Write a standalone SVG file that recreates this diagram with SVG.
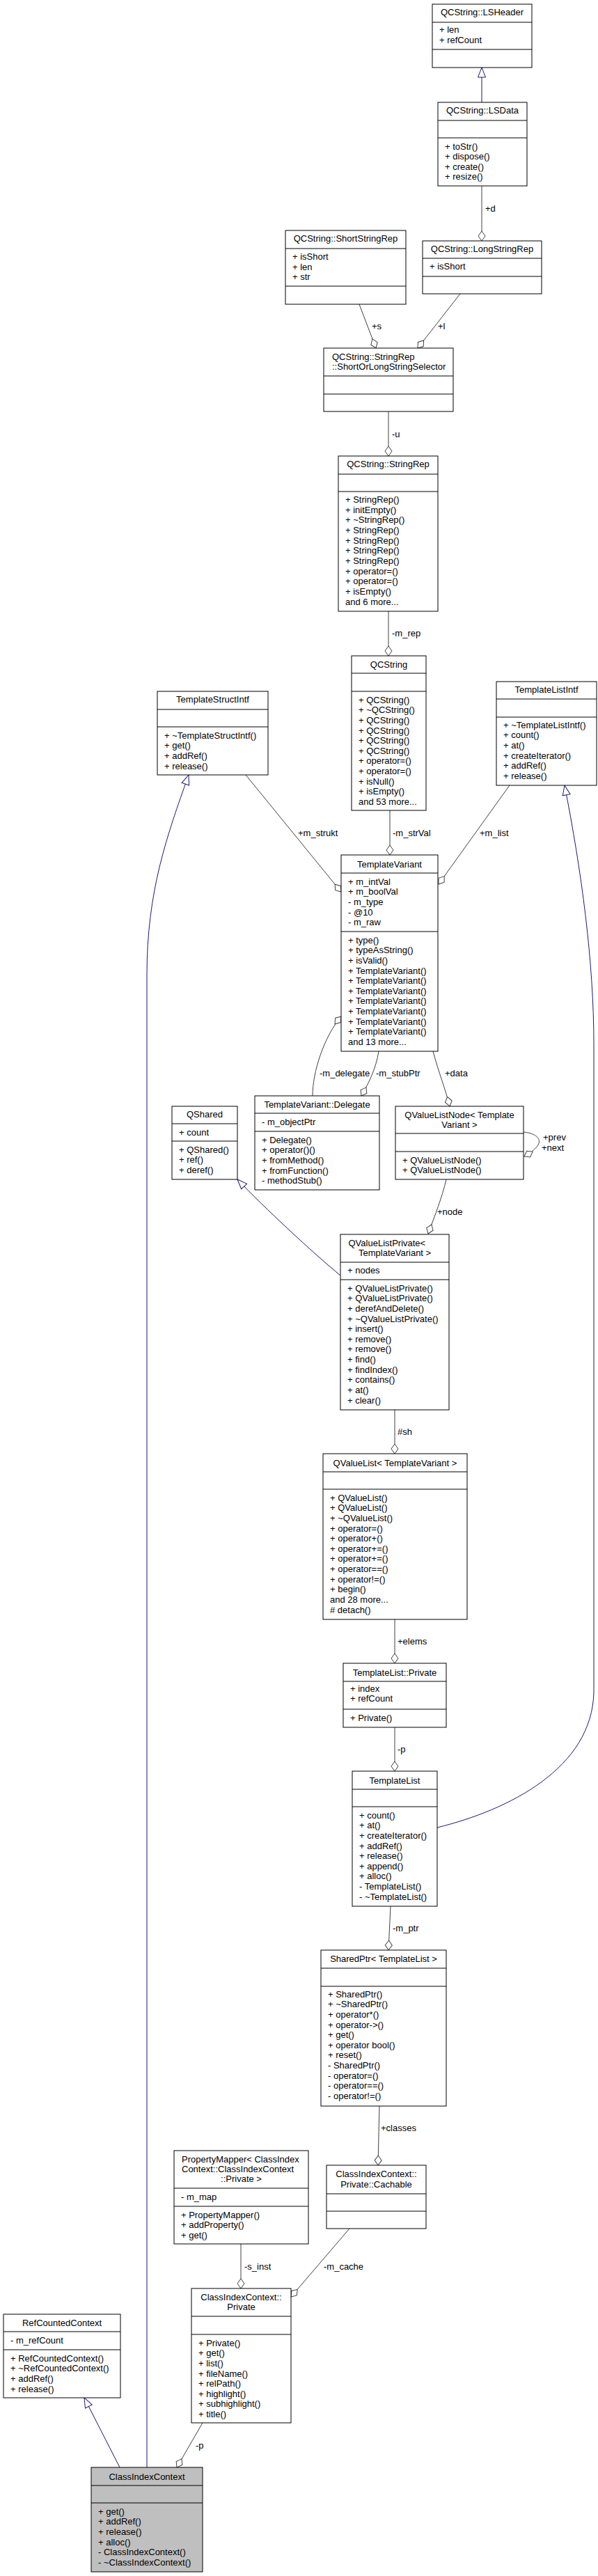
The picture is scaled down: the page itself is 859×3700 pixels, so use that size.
<svg xmlns="http://www.w3.org/2000/svg" width="859" height="3700" viewBox="0 0 859 3700">
<style>
text{font-family:"Liberation Sans",Arial,Helvetica,sans-serif;font-size:13px;fill:#000}
.m{text-anchor:middle}
.b{fill:#fff;stroke:#000;stroke-width:1}
.g{fill:#bfbfbf;stroke:#000;stroke-width:1}
.d{stroke:#000;stroke-width:1}
.e{fill:none;stroke:#404040;stroke-width:1;marker-end:url(#dia)}
.i{fill:none;stroke:#191970;stroke-width:1;marker-end:url(#tri)}
</style>
<defs>
<marker id="dia" markerUnits="userSpaceOnUse" viewBox="-16 -8 18 16" refX="0" refY="0" markerWidth="18" markerHeight="16" orient="auto" overflow="visible">
<path d="M0,0 L-7,-5 L-14,0 L-7,5 Z" fill="#fff" stroke="#404040" stroke-width="1"/>
</marker>
<marker id="tri" markerUnits="userSpaceOnUse" viewBox="-16 -8 18 16" refX="0" refY="0" markerWidth="18" markerHeight="16" orient="auto" overflow="visible">
<path d="M0,0 L-14,-5.5 L-14,5.5 Z" fill="#fff" stroke="#191970" stroke-width="1"/>
</marker>
</defs>
<rect width="859" height="3700" fill="#fff"/>

<g id="edges">
<path class="i" d="M692,147 L692,97"/>
<path class="e" d="M692,267 L692,346"/>
<text x="697" y="303.5">+d</text>
<path class="e" d="M516,437 L540,500"/>
<text x="534" y="472.5">+s</text>
<path class="e" d="M661,422 L600,500"/>
<text x="629" y="472.5">+l</text>
<path class="e" d="M558,591 L558,655"/>
<text x="563" y="627.5">-u</text>
<path class="e" d="M558,878 L558,942"/>
<text x="563" y="913.5">-m_rep</text>
<path class="e" d="M353,1113 L490,1281"/>
<text x="428" y="1200.5">+m_strukt</text>
<path class="e" d="M560,1164 L560,1228"/>
<text x="564" y="1200.5">-m_strVal</text>
<path class="e" d="M732,1128 L630,1270"/>
<text x="689" y="1200.5">+m_list</text>
<path class="i" d="M211,3544 L211,1400 C211,1280 240,1200 271,1113"/>
<path class="i" d="M628,2625 C730,2600 851,2540 853,2430 L853,1500 C853,1380 835,1250 811,1128"/>
<path class="e" d="M449,1574 C449,1540 465,1490 490,1460"/>
<text x="459" y="1545.5">-m_delegate</text>
<path class="e" d="M544,1510 C540,1535 530,1555 519,1574"/>
<text x="540" y="1545.5">-m_stubPtr</text>
<path class="e" d="M622,1510 C630,1540 640,1565 646,1589"/>
<text x="639" y="1545.5">+data</text>
<path class="e" d="M752,1626 C772,1628 790,1640 753,1661"/>
<text x="780" y="1637.5">+prev</text>
<text x="778" y="1652.5">+next</text>
<path class="e" d="M641,1694 C635,1720 625,1745 615,1772"/>
<text x="628" y="1744.5">+node</text>
<path class="i" d="M489,1832 C450,1800 380,1735 341,1694"/>
<path class="e" d="M567,2025 L567,2088"/>
<text x="571" y="2060.5">#sh</text>
<path class="e" d="M567,2326 L567,2389"/>
<text x="571" y="2361.5">+elems</text>
<path class="e" d="M567,2481 L567,2544"/>
<text x="571" y="2516.5">-p</text>
<path class="e" d="M561,2738 L558,2801"/>
<text x="564" y="2773.5">-m_ptr</text>
<path class="e" d="M545,3025 L543,3110"/>
<text x="547" y="3060.5">+classes</text>
<path class="e" d="M346,3223 L346,3287"/>
<text x="351" y="3259.5">-s_inst</text>
<path class="e" d="M502,3201 L418,3299"/>
<text x="465" y="3259.5">-m_cache</text>
<path class="i" d="M172,3544 L121,3444"/>
<path class="e" d="M291,3480 L254,3544"/>
<text x="281" y="3516.5">-p</text>
</g>

<g id="n_lsheader">
<rect class="b" x="621" y="6" width="143" height="91"/>
<line class="d" x1="621" y1="32" x2="764" y2="32"/><line class="d" x1="621" y1="71" x2="764" y2="71"/>
<text class="m" x="692.5" y="22">QCString::LSHeader</text>
<text x="631" y="47">+ len</text>
<text x="631" y="62">+ refCount</text>
</g>

<g id="n_lsdata">
<rect class="b" x="629" y="147" width="128" height="120"/>
<line class="d" x1="629" y1="173" x2="757" y2="173"/><line class="d" x1="629" y1="198" x2="757" y2="198"/>
<text class="m" x="693" y="163">QCString::LSData</text>
<text x="639" y="214.5">+ toStr()</text>
<text x="639" y="229">+ dispose()</text>
<text x="639" y="243.5">+ create()</text>
<text x="639" y="258">+ resize()</text>
</g>

<g id="n_shortstringrep">
<rect class="b" x="410" y="331" width="173" height="106"/>
<line class="d" x1="410" y1="357" x2="583" y2="357"/><line class="d" x1="410" y1="411" x2="583" y2="411"/>
<text class="m" x="496.5" y="347">QCString::ShortStringRep</text>
<text x="420" y="373">+ isShort</text>
<text x="420" y="387.5">+ len</text>
<text x="420" y="402">+ str</text>
</g>

<g id="n_longstringrep">
<rect class="b" x="607" y="346" width="171" height="76"/>
<line class="d" x1="607" y1="371" x2="778" y2="371"/><line class="d" x1="607" y1="397" x2="778" y2="397"/>
<text class="m" x="692.5" y="362">QCString::LongStringRep</text>
<text x="617" y="387">+ isShort</text>
</g>

<g id="n_selector">
<rect class="b" x="465" y="500" width="186" height="91"/>
<line class="d" x1="465" y1="540" x2="651" y2="540"/><line class="d" x1="465" y1="566" x2="651" y2="566"/>
<text x="477" y="517">QCString::StringRep</text>
<text x="477" y="531">::ShortOrLongStringSelector</text>
</g>

<g id="n_stringrep">
<rect class="b" x="486" y="655" width="143" height="223"/>
<line class="d" x1="486" y1="681" x2="629" y2="681"/><line class="d" x1="486" y1="706" x2="629" y2="706"/>
<text class="m" x="557.5" y="671">QCString::StringRep</text>
<text x="496" y="722">+ StringRep()</text>
<text x="496" y="736.7">+ initEmpty()</text>
<text x="496" y="751.3">+ ~StringRep()</text>
<text x="496" y="766">+ StringRep()</text>
<text x="496" y="780.6">+ StringRep()</text>
<text x="496" y="795.3">+ StringRep()</text>
<text x="496" y="809.9">+ StringRep()</text>
<text x="496" y="824.6">+ operator=()</text>
<text x="496" y="839.2">+ operator=()</text>
<text x="496" y="853.9">+ isEmpty()</text>
<text x="496" y="868.5">and 6 more...</text>
</g>

<g id="n_qcstring">
<rect class="b" x="505" y="942" width="107" height="222"/>
<line class="d" x1="505" y1="967" x2="612" y2="967"/><line class="d" x1="505" y1="993" x2="612" y2="993"/>
<text class="m" x="558.5" y="958.5">QCString</text>
<text x="515" y="1009.5">+ QCString()</text>
<text x="515" y="1024.2">+ ~QCString()</text>
<text x="515" y="1038.8">+ QCString()</text>
<text x="515" y="1053.5">+ QCString()</text>
<text x="515" y="1068.1">+ QCString()</text>
<text x="515" y="1082.8">+ QCString()</text>
<text x="515" y="1097.4">+ operator=()</text>
<text x="515" y="1112.1">+ operator=()</text>
<text x="515" y="1126.7">+ isNull()</text>
<text x="515" y="1141.4">+ isEmpty()</text>
<text x="515" y="1156">and 53 more...</text>
</g>

<g id="n_templatestructintf">
<rect class="b" x="226" y="993" width="159" height="120"/>
<line class="d" x1="226" y1="1019" x2="385" y2="1019"/><line class="d" x1="226" y1="1044" x2="385" y2="1044"/>
<text class="m" x="305.5" y="1009">TemplateStructIntf</text>
<text x="236" y="1060.5">+ ~TemplateStructIntf()</text>
<text x="236" y="1075.2">+ get()</text>
<text x="236" y="1089.8">+ addRef()</text>
<text x="236" y="1104.5">+ release()</text>
</g>

<g id="n_templatelistintf">
<rect class="b" x="713" y="979" width="144" height="149"/>
<line class="d" x1="713" y1="1004" x2="857" y2="1004"/><line class="d" x1="713" y1="1030" x2="857" y2="1030"/>
<text class="m" x="785" y="995">TemplateListIntf</text>
<text x="723" y="1045.5">+ ~TemplateListIntf()</text>
<text x="723" y="1060.2">+ count()</text>
<text x="723" y="1074.8">+ at()</text>
<text x="723" y="1089.5">+ createIterator()</text>
<text x="723" y="1104.1">+ addRef()</text>
<text x="723" y="1118.8">+ release()</text>
</g>

<g id="n_templatevariant">
<rect class="b" x="490" y="1228" width="139" height="282"/>
<line class="d" x1="490" y1="1254" x2="629" y2="1254"/><line class="d" x1="490" y1="1338" x2="629" y2="1338"/>
<text class="m" x="559.5" y="1245.5">TemplateVariant</text>
<text x="500" y="1270.5">+ m_intVal</text>
<text x="500" y="1285.2">+ m_boolVal</text>
<text x="500" y="1299.8">- m_type</text>
<text x="500" y="1314.5">- @10</text>
<text x="500" y="1329.1">- m_raw</text>
<text x="500" y="1354.5">+ type()</text>
<text x="500" y="1369.2">+ typeAsString()</text>
<text x="500" y="1383.8">+ isValid()</text>
<text x="500" y="1398.5">+ TemplateVariant()</text>
<text x="500" y="1413.1">+ TemplateVariant()</text>
<text x="500" y="1427.8">+ TemplateVariant()</text>
<text x="500" y="1442.4">+ TemplateVariant()</text>
<text x="500" y="1457.1">+ TemplateVariant()</text>
<text x="500" y="1471.7">+ TemplateVariant()</text>
<text x="500" y="1486.4">+ TemplateVariant()</text>
<text x="500" y="1501">and 13 more...</text>
</g>

<g id="n_delegate">
<rect class="b" x="366" y="1574" width="179" height="135"/>
<line class="d" x1="366" y1="1599" x2="545" y2="1599"/><line class="d" x1="366" y1="1625" x2="545" y2="1625"/>
<text class="m" x="455.5" y="1590.5">TemplateVariant::Delegate</text>
<text x="376" y="1615.5">- m_objectPtr</text>
<text x="376" y="1641.5">+ Delegate()</text>
<text x="376" y="1656.2">+ operator()()</text>
<text x="376" y="1670.8">+ fromMethod()</text>
<text x="376" y="1685.5">+ fromFunction()</text>
<text x="376" y="1700.1">- methodStub()</text>
</g>

<g id="n_qshared">
<rect class="b" x="247" y="1589" width="94" height="105"/>
<line class="d" x1="247" y1="1614" x2="341" y2="1614"/><line class="d" x1="247" y1="1639" x2="341" y2="1639"/>
<text class="m" x="294" y="1604.5">QShared</text>
<text x="257" y="1630.5">+ count</text>
<text x="257" y="1655.5">+ QShared()</text>
<text x="257" y="1670.2">+ ref()</text>
<text x="257" y="1684.8">+ deref()</text>
</g>

<g id="n_qvaluelistnode">
<rect class="b" x="568" y="1589" width="184" height="105"/>
<line class="d" x1="568" y1="1628" x2="752" y2="1628"/><line class="d" x1="568" y1="1654" x2="752" y2="1654"/>
<text class="m" x="660" y="1605.5">QValueListNode&lt; Template</text>
<text class="m" x="660" y="1619.5">Variant &gt;</text>
<text x="578" y="1670.5">+ QValueListNode()</text>
<text x="578" y="1685.2">+ QValueListNode()</text>
</g>

<g id="n_qvaluelistprivate">
<rect class="b" x="489" y="1773" width="156" height="252"/>
<line class="d" x1="489" y1="1813" x2="645" y2="1813"/><line class="d" x1="489" y1="1838" x2="645" y2="1838"/>
<text x="500.5" y="1789.5">QValueListPrivate&lt;</text>
<text x="515" y="1803.5">TemplateVariant &gt;</text>
<text x="499" y="1828.5">+ nodes</text>
<text x="499" y="1854.5">+ QValueListPrivate()</text>
<text x="499" y="1869.2">+ QValueListPrivate()</text>
<text x="499" y="1883.8">+ derefAndDelete()</text>
<text x="499" y="1898.5">+ ~QValueListPrivate()</text>
<text x="499" y="1913.1">+ insert()</text>
<text x="499" y="1927.8">+ remove()</text>
<text x="499" y="1942.4">+ remove()</text>
<text x="499" y="1957.1">+ find()</text>
<text x="499" y="1971.7">+ findIndex()</text>
<text x="499" y="1986.4">+ contains()</text>
<text x="499" y="2001">+ at()</text>
<text x="499" y="2015.7">+ clear()</text>
</g>

<g id="n_qvaluelist">
<rect class="b" x="464" y="2088" width="207" height="238"/>
<line class="d" x1="464" y1="2114" x2="671" y2="2114"/><line class="d" x1="464" y1="2139" x2="671" y2="2139"/>
<text class="m" x="567.5" y="2105.5">QValueList&lt; TemplateVariant &gt;</text>
<text x="474" y="2155.5">+ QValueList()</text>
<text x="474" y="2170.2">+ QValueList()</text>
<text x="474" y="2184.8">+ ~QValueList()</text>
<text x="474" y="2199.5">+ operator=()</text>
<text x="474" y="2214.1">+ operator+()</text>
<text x="474" y="2228.8">+ operator+=()</text>
<text x="474" y="2243.4">+ operator+=()</text>
<text x="474" y="2258.1">+ operator==()</text>
<text x="474" y="2272.7">+ operator!=()</text>
<text x="474" y="2287.4">+ begin()</text>
<text x="474" y="2302">and 28 more...</text>
<text x="474" y="2316.7"># detach()</text>
</g>

<g id="n_templatelistprivate">
<rect class="b" x="493" y="2389" width="148" height="92"/>
<line class="d" x1="493" y1="2415" x2="641" y2="2415"/><line class="d" x1="493" y1="2455" x2="641" y2="2455"/>
<text class="m" x="567" y="2406.5">TemplateList::Private</text>
<text x="503" y="2429.5">+ index</text>
<text x="503" y="2444">+ refCount</text>
<text x="503" y="2471.5">+ Private()</text>
</g>

<g id="n_templatelist">
<rect class="b" x="506" y="2544" width="122" height="194"/>
<line class="d" x1="506" y1="2570" x2="628" y2="2570"/><line class="d" x1="506" y1="2595" x2="628" y2="2595"/>
<text class="m" x="567" y="2561.5">TemplateList</text>
<text x="516" y="2611.5">+ count()</text>
<text x="516" y="2626.2">+ at()</text>
<text x="516" y="2640.8">+ createIterator()</text>
<text x="516" y="2655.5">+ addRef()</text>
<text x="516" y="2670.1">+ release()</text>
<text x="516" y="2684.8">+ append()</text>
<text x="516" y="2699.4">+ alloc()</text>
<text x="516" y="2714.1">- TemplateList()</text>
<text x="516" y="2728.7">- ~TemplateList()</text>
</g>

<g id="n_sharedptr">
<rect class="b" x="461" y="2801" width="180" height="224"/>
<line class="d" x1="461" y1="2827" x2="641" y2="2827"/><line class="d" x1="461" y1="2853" x2="641" y2="2853"/>
<text class="m" x="551" y="2817.5">SharedPtr&lt; TemplateList &gt;</text>
<text x="471" y="2868.5">+ SharedPtr()</text>
<text x="471" y="2883.2">+ ~SharedPtr()</text>
<text x="471" y="2897.8">+ operator*()</text>
<text x="471" y="2912.5">+ operator-&gt;()</text>
<text x="471" y="2927.1">+ get()</text>
<text x="471" y="2941.8">+ operator bool()</text>
<text x="471" y="2956.4">+ reset()</text>
<text x="471" y="2971.1">- SharedPtr()</text>
<text x="471" y="2985.7">- operator=()</text>
<text x="471" y="3000.4">- operator==()</text>
<text x="471" y="3015">- operator!=()</text>
</g>

<g id="n_cachable">
<rect class="b" x="469" y="3110" width="143" height="91"/>
<line class="d" x1="469" y1="3151" x2="612" y2="3151"/><line class="d" x1="469" y1="3176" x2="612" y2="3176"/>
<text class="m" x="540.5" y="3126.5">ClassIndexContext::</text>
<text class="m" x="540.5" y="3141.5">Private::Cachable</text>
</g>

<g id="n_propertymapper">
<rect class="b" x="250" y="3089" width="193" height="134"/>
<line class="d" x1="250" y1="3143" x2="443" y2="3143"/><line class="d" x1="250" y1="3169" x2="443" y2="3169"/>
<text x="261" y="3105.5">PropertyMapper&lt; ClassIndex</text>
<text x="261" y="3119.5">Context::ClassIndexContext</text>
<text class="m" x="346.5" y="3133.5">::Private &gt;</text>
<text x="260" y="3159.5">- m_map</text>
<text x="260" y="3185.5">+ PropertyMapper()</text>
<text x="260" y="3200.2">+ addProperty()</text>
<text x="260" y="3214.8">+ get()</text>
</g>

<g id="n_private">
<rect class="b" x="275" y="3287" width="143" height="193"/>
<line class="d" x1="275" y1="3327" x2="418" y2="3327"/><line class="d" x1="275" y1="3353" x2="418" y2="3353"/>
<text class="m" x="346.5" y="3303.5">ClassIndexContext::</text>
<text class="m" x="346.5" y="3317.5">Private</text>
<text x="285" y="3369.5">+ Private()</text>
<text x="285" y="3384.2">+ get()</text>
<text x="285" y="3398.8">+ list()</text>
<text x="285" y="3413.5">+ fileName()</text>
<text x="285" y="3428.1">+ relPath()</text>
<text x="285" y="3442.8">+ highlight()</text>
<text x="285" y="3457.4">+ subhighlight()</text>
<text x="285" y="3472.1">+ title()</text>
</g>

<g id="n_refcountedcontext">
<rect class="b" x="5" y="3324" width="168" height="120"/>
<line class="d" x1="5" y1="3349" x2="173" y2="3349"/><line class="d" x1="5" y1="3375" x2="173" y2="3375"/>
<text class="m" x="89" y="3340.5">RefCountedContext</text>
<text x="15" y="3365.5">- m_refCount</text>
<text x="15" y="3391.5">+ RefCountedContext()</text>
<text x="15" y="3406.2">+ ~RefCountedContext()</text>
<text x="15" y="3420.8">+ addRef()</text>
<text x="15" y="3435.5">+ release()</text>
</g>

<g id="n_classindexcontext">
<rect class="g" x="131" y="3544" width="160" height="150"/>
<line class="d" x1="131" y1="3570" x2="291" y2="3570"/><line class="d" x1="131" y1="3595" x2="291" y2="3595"/>
<text class="m" x="211" y="3561.5">ClassIndexContext</text>
<text x="141" y="3611.5">+ get()</text>
<text x="141" y="3626.2">+ addRef()</text>
<text x="141" y="3640.8">+ release()</text>
<text x="141" y="3655.5">+ alloc()</text>
<text x="141" y="3670.1">- ClassIndexContext()</text>
<text x="141" y="3684.8">- ~ClassIndexContext()</text>
</g>
</svg>
